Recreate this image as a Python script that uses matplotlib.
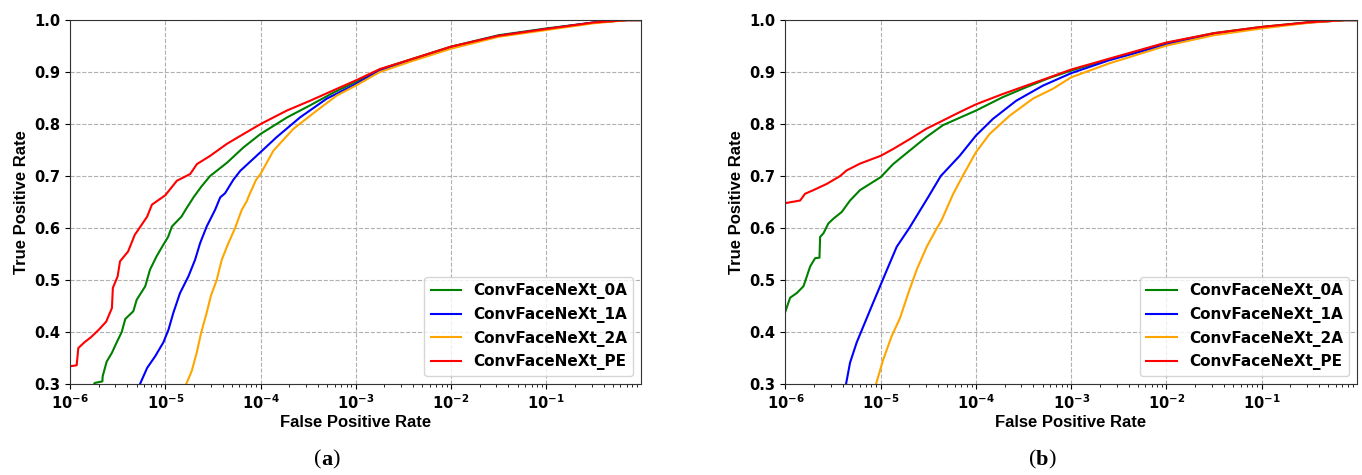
import matplotlib
matplotlib.use("Agg")
import matplotlib.pyplot as plt
import numpy as np
from matplotlib.ticker import FuncFormatter, MultipleLocator

labels = ["ConvFaceNeXt_0A", "ConvFaceNeXt_1A", "ConvFaceNeXt_2A", "ConvFaceNeXt_PE"]
colors = ["green", "blue", "orange", "red"]
xtick_exps = [-6, -5, -4, -3, -2, -1]

# ---- panel (a)
a_0A_logfpr = [-5.78, -5.74, -5.66, -5.657, -5.615, -5.56, -5.51, -5.457, -5.42, -5.335, -5.30,
               -5.21, -5.16, -5.09, -5.02, -4.97, -4.93, -4.83, -4.77, -4.70, -4.62, -4.53,
               -4.35, -4.18, -4.0, -3.72, -3.48, -3.23, -3.0, -2.75, -2.43, -2.0, -1.5, -1.0,
               -0.5, -0.15, -0.005]
a_0A_tpr = [0.29, 0.302, 0.305, 0.315, 0.343, 0.36, 0.38, 0.40, 0.425, 0.44, 0.462,
            0.488, 0.52, 0.546, 0.568, 0.583, 0.603, 0.622, 0.64, 0.66, 0.68, 0.70,
            0.726, 0.755, 0.781, 0.813, 0.836, 0.861, 0.881, 0.905, 0.924, 0.949, 0.971, 0.984,
            0.9955, 1.0, 1.0]

a_1A_logfpr = [-5.30, -5.265, -5.19, -5.107, -5.02, -4.967, -4.915, -4.845, -4.757, -4.687,
               -4.634, -4.565, -4.477, -4.423, -4.372, -4.285, -4.213, -4.0, -3.83, -3.584,
               -3.304, -3.0, -2.75, -2.43, -2.0, -1.5, -1.0, -0.5, -0.15, -0.005]
a_1A_tpr = [0.28, 0.30, 0.331, 0.353, 0.38, 0.404, 0.437, 0.475, 0.507, 0.539,
            0.571, 0.603, 0.635, 0.659, 0.667, 0.693, 0.71, 0.746, 0.775, 0.813,
            0.849, 0.877, 0.903, 0.922, 0.948, 0.970, 0.983, 0.9955, 1.0, 1.0]

a_2A_logfpr = [-4.80, -4.78, -4.722, -4.67, -4.624, -4.565, -4.522, -4.46, -4.407, -4.337,
               -4.267, -4.197, -4.143, -4.127, -4.046, -4.0, -3.864, -3.654, -3.409, -3.199,
               -3.0, -2.75, -2.43, -2.0, -1.5, -1.0, -0.5, -0.15, -0.005]
a_2A_tpr = [0.28, 0.30, 0.325, 0.36, 0.398, 0.437, 0.469, 0.50, 0.539, 0.571,
            0.60, 0.635, 0.652, 0.66, 0.693, 0.704, 0.749, 0.791, 0.826, 0.855,
            0.874, 0.90, 0.92, 0.945, 0.968, 0.981, 0.994, 1.0, 1.0]

a_PE_logfpr = [-6.0, -5.93, -5.913, -5.85, -5.78, -5.70, -5.62, -5.56, -5.55, -5.50, -5.475,
               -5.39, -5.32, -5.26, -5.19, -5.14, -5.0, -4.878, -4.738, -4.668, -4.528,
               -4.353, -4.178, -4.0, -3.724, -3.479, -3.234, -3.0, -2.745, -2.43, -2.0,
               -1.5, -1.0, -0.5, -0.15, -0.005]
a_PE_tpr = [0.334, 0.336, 0.369, 0.38, 0.39, 0.404, 0.42, 0.446, 0.485, 0.507, 0.536,
            0.555, 0.587, 0.603, 0.622, 0.645, 0.663, 0.691, 0.704, 0.723, 0.739,
            0.762, 0.781, 0.80, 0.826, 0.845, 0.865, 0.884, 0.906, 0.924, 0.949,
            0.970, 0.983, 0.9955, 1.0, 1.0]

# ---- panel (b)
b_0A_logfpr = [-6.0, -5.951, -5.881, -5.811, -5.794, -5.741, -5.689, -5.643, -5.636, -5.601,
               -5.549, -5.497, -5.409, -5.322, -5.217, -5.0, -4.87, -4.696, -4.521, -4.346,
               -4.0, -3.717, -3.472, -3.227, -3.0, -2.598, -2.0, -1.5, -1.0, -0.5, -0.13, -0.005]
b_0A_tpr = [0.44, 0.466, 0.475, 0.488, 0.497, 0.526, 0.542, 0.543, 0.583, 0.59,
            0.609, 0.618, 0.631, 0.653, 0.673, 0.698, 0.723, 0.749, 0.775, 0.798,
            0.826, 0.852, 0.871, 0.889, 0.903, 0.925, 0.956, 0.975, 0.987, 0.996, 1.0, 1.0]

b_1A_logfpr = [-5.40, -5.364, -5.322, -5.252, -5.182, -5.094, -5.007, -4.92, -4.832, -4.70,
               -4.60, -4.50, -4.37, -4.171, -4.0, -3.822, -3.577, -3.297, -3.0, -2.598,
               -2.0, -1.5, -1.0, -0.5, -0.13, -0.005]
b_1A_tpr = [0.28, 0.30, 0.341, 0.38, 0.411, 0.45, 0.488, 0.526, 0.564, 0.60,
            0.63, 0.66, 0.70, 0.739, 0.778, 0.81, 0.845, 0.874, 0.898, 0.923,
            0.953, 0.973, 0.986, 0.9955, 1.0, 1.0]

b_2A_logfpr = [-5.10, -5.049, -4.972, -4.885, -4.797, -4.71, -4.622, -4.517, -4.41, -4.364,
               -4.241, -4.14, -4.0, -3.857, -3.647, -3.402, -3.192, -3.0, -2.598, -2.0,
               -1.5, -1.0, -0.5, -0.13, -0.005]
b_2A_tpr = [0.27, 0.30, 0.348, 0.392, 0.427, 0.475, 0.52, 0.564, 0.60, 0.614,
            0.665, 0.70, 0.746, 0.781, 0.816, 0.849, 0.868, 0.89, 0.917, 0.951,
            0.971, 0.984, 0.995, 1.0, 1.0]

b_PE_logfpr = [-6.0, -5.846, -5.794, -5.706, -5.566, -5.427, -5.357, -5.217, -5.0, -4.87,
               -4.696, -4.521, -4.346, -4.171, -4.0, -3.717, -3.472, -3.227, -3.0, -2.598,
               -2.0, -1.5, -1.0, -0.5, -0.13, -0.005]
b_PE_tpr = [0.648, 0.653, 0.666, 0.673, 0.685, 0.70, 0.711, 0.724, 0.739, 0.752,
            0.771, 0.791, 0.807, 0.823, 0.838, 0.858, 0.874, 0.89, 0.905, 0.926,
            0.957, 0.975, 0.987, 0.996, 1.0, 1.0]

panels = [
    [(a_0A_logfpr, a_0A_tpr), (a_1A_logfpr, a_1A_tpr), (a_2A_logfpr, a_2A_tpr), (a_PE_logfpr, a_PE_tpr)],
    [(b_0A_logfpr, b_0A_tpr), (b_1A_logfpr, b_1A_tpr), (b_2A_logfpr, b_2A_tpr), (b_PE_logfpr, b_PE_tpr)],
]
captions = ["a", "b"]


def sci_fmt(x, pos):
    return r'$\mathbf{10^{%d}}$' % int(round(np.log10(x)))


fig = plt.figure(figsize=(13.62, 4.75), dpi=100)
ax_pos = [[0.0514, 0.1916, 0.4193, 0.766], [0.5767, 0.1916, 0.4193, 0.766]]
caption_x = [326 / 1362, 1041 / 1362]

for k, series in enumerate(panels):
    ax = fig.add_axes(ax_pos[k])
    for (lx, ty), lab, c in zip(series, labels, colors):
        ax.plot(10 ** np.array(lx), ty, color=c, lw=1.5, label=lab)
    ax.set_xscale('log')
    ax.set_xlim(1e-6, 0.99)
    ax.set_ylim(0.3, 1.0)
    ax.set_xticks([10.0 ** e for e in xtick_exps])
    ax.yaxis.set_major_locator(MultipleLocator(0.1))
    ax.xaxis.set_major_formatter(FuncFormatter(sci_fmt))
    ax.grid(True, which='major', linestyle='--', color='#b0b0b0', lw=0.8)
    ax.tick_params(labelsize=10.5)
    for t in ax.get_yticklabels():
        t.set_fontweight('bold')
    for s in ax.spines.values():
        s.set_color('#333333')
    ax.set_xlabel('False Positive Rate', fontsize=12, fontweight='bold', family='Liberation Sans', labelpad=2)
    ax.set_ylabel('True Positive Rate', fontsize=12, fontweight='bold', family='Liberation Sans')
    ax.legend(loc='lower right', prop={'family': 'DejaVu Sans', 'weight': 'bold', 'size': 11})

    # caption "(a)" / "(b)" with bold letter, pieces chained one after another
    t1 = fig.text(caption_x[k] - 0.009, 0.022, '(', family='Liberation Serif', fontsize=16,
                  ha='left', va='baseline')
    t2 = fig.text(0, 0, captions[k], family='Liberation Serif', fontsize=16, fontweight='bold',
                  ha='left', va='baseline', transform=None)
    t2.set_position((0, 0))
    a2 = ax.annotate(captions[k], xy=(1, 0), xycoords=t1, va='bottom', ha='left',
                     family='Liberation Serif', fontsize=16, fontweight='bold', annotation_clip=False)
    t2.remove()
    ax.annotate(')', xy=(1, 0), xycoords=a2, va='bottom', ha='left',
                family='Liberation Serif', fontsize=16, annotation_clip=False)

fig.savefig('out.png', dpi=100)
